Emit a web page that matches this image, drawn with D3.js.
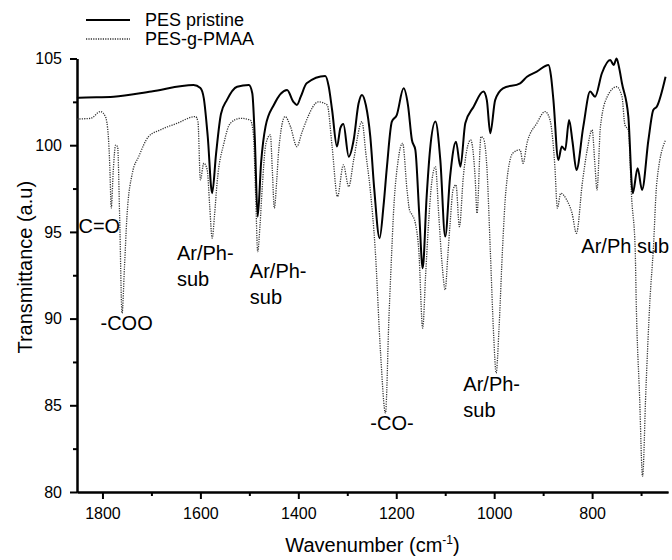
<!DOCTYPE html>
<html>
<head>
<meta charset="utf-8">
<script src="https://cdn.jsdelivr.net/npm/d3@7"></script>
<style>
  body { margin: 0; background: #fff; }
  text { font-family: "Liberation Sans", Arial, sans-serif; fill: #000; }
</style>
</head>
<body>
<svg id="chart" width="672" height="560"></svg>
<script>
// FTIR spectra, wavenumber (cm-1) vs transmittance (a.u)

// PES pristine
let pristineWn = [1852, 1848, 1777, 1700, 1614, 1600, 1593, 1585, 1576, 1568, 1558, 1546, 1525, 1501, 1494, 1489, 1483, 1476, 1467, 1450, 1423, 1410, 1403, 1395, 1383, 1345, 1338, 1331, 1321, 1314, 1308, 1297, 1287, 1277, 1270, 1262, 1253, 1245, 1234, 1226, 1219, 1209, 1199, 1185, 1176, 1168, 1161, 1153, 1146, 1138, 1131, 1120, 1110, 1100, 1090, 1078, 1069, 1059, 1042, 1022, 1015, 1008, 998, 982, 947, 933, 913, 889, 884, 879, 869, 862, 855, 847, 840, 832, 818, 804, 794, 780, 763, 756, 750, 745, 739, 726, 717, 707, 698, 685, 675, 668, 650]
let pristineT = [102.72, 102.74, 102.8, 103.1, 103.47, 103.3, 102.7, 100.5, 97.23, 99.5, 101.8, 102.6, 103.37, 103.47, 103.0, 100.5, 95.88, 99.0, 101.07, 102.32, 103.18, 102.5, 102.32, 102.8, 103.57, 103.99, 103.4, 102.03, 99.92, 101.0, 101.22, 99.34, 100.3, 102.4, 102.9, 102.3, 100.49, 97.5, 94.64, 96.5, 98.76, 101.36, 101.74, 103.28, 102.3, 100.3, 99.73, 96.0, 92.91, 97.0, 99.73, 101.36, 99.15, 94.73, 98.19, 100.2, 98.76, 101.26, 102.22, 103.09, 102.6, 100.69, 102.6, 103.28, 103.57, 103.95, 104.24, 104.63, 104.0, 102.6, 99.15, 99.92, 99.73, 101.46, 100.2, 98.57, 101.07, 103.09, 102.8, 104.15, 104.91, 104.63, 105.0, 104.5, 103.57, 101.65, 97.23, 98.67, 97.42, 100.3, 102.03, 102.22, 103.95]

// PES-g-PMAA
let graftedWn = [1852, 1848, 1824, 1804, 1794, 1788, 1785, 1782, 1778, 1773, 1769, 1765, 1760, 1755, 1750, 1739, 1726, 1706, 1682, 1648, 1610, 1605, 1600, 1593, 1586, 1581, 1576, 1571, 1566, 1552, 1539, 1518, 1498, 1492, 1487, 1483, 1478, 1474, 1466, 1457, 1453, 1449, 1444, 1440, 1427, 1416, 1403, 1393, 1383, 1359, 1341, 1331, 1320, 1308, 1297, 1287, 1270, 1262, 1253, 1243, 1232, 1222, 1215, 1209, 1206, 1196, 1187, 1178, 1173, 1168, 1161, 1154, 1146, 1140, 1134, 1127, 1120, 1113, 1106, 1100, 1095, 1090, 1084, 1078, 1071, 1063, 1048, 1039, 1035, 1027, 1022, 1015, 1008, 1001, 996, 990, 983, 976, 962, 947, 941, 933, 913, 896, 886, 876, 871, 864, 852, 841, 832, 820, 810, 800, 794, 790, 783, 769, 750, 739, 733, 726, 719, 712, 710, 703, 697, 690, 682, 675, 668, 650]
let graftedT = [101.5, 101.51, 101.55, 101.94, 101.65, 100.5, 98.76, 96.37, 98.5, 100.01, 99.9, 96.0, 90.31, 93.0, 95.88, 98.38, 99.34, 100.49, 100.88, 101.26, 101.65, 101.36, 98.0, 98.96, 98.57, 96.5, 94.64, 96.0, 97.81, 100.11, 101.26, 101.55, 101.45, 100.69, 97.0, 93.86, 95.5, 97.42, 100.11, 100.59, 98.5, 96.37, 98.0, 99.73, 101.65, 101.07, 99.92, 100.7, 101.46, 102.5, 102.32, 99.92, 97.04, 98.86, 97.61, 99.15, 101.36, 99.5, 97.4, 94.0, 88.0, 84.55, 90.0, 94.0, 95.88, 99.15, 100.11, 97.42, 96.27, 96.0, 95.5, 93.96, 89.45, 92.5, 95.5, 98.0, 98.76, 95.88, 93.0, 91.66, 93.5, 95.5, 97.42, 97.71, 95.3, 98.19, 100.3, 98.19, 96.08, 100.49, 100.4, 98.76, 94.0, 89.0, 86.86, 89.5, 94.0, 97.4, 99.54, 99.73, 98.96, 100.11, 101.26, 101.94, 101.46, 98.76, 96.37, 97.23, 96.85, 96.08, 94.92, 97.81, 99.73, 100.88, 98.76, 97.42, 101.07, 102.8, 103.37, 102.8, 101.17, 100.88, 96.85, 94.0, 91.08, 85.5, 80.9, 86.0, 91.0, 94.0, 97.81, 100.3]

// band assignments: text lines, anchor wavenumber, anchor transmittance (baseline of first line)
let bandLabels = [['C=O'], ['-COO'], ['Ar/Ph-', 'sub'], ['Ar/Ph-', 'sub'], ['-CO-'], ['Ar/Ph-', 'sub'], ['Ar/Ph sub']]
let bandWn = [1849, 1804, 1648, 1499, 1253, 1063, 822]
let bandT = [94.96, 89.35, 93.39, 92.33, 83.55, 85.85, 93.77]

let seriesNames = ['PES pristine', 'PES-g-PMAA']
let xMajor = [1800, 1600, 1400, 1200, 1000, 800]
let xMinor = [1700, 1500, 1300, 1100, 900, 700]
let yMajor = [80, 85, 90, 95, 100, 105]
let yMinor = [82.5, 87.5, 92.5, 97.5, 102.5]

let margin = { top: 58.5, right: 4, bottom: 68, left: 77 }
let width = 672 - margin.left - margin.right
let height = 560 - margin.top - margin.bottom

let svg = d3.select('#chart')
let g = svg.append('g').attr('transform', `translate(${margin.left},${margin.top})`)

let x = d3.scaleLinear().domain([1852, 645]).range([0, width])
let y = d3.scaleLinear().domain([80, 105]).range([height, 0])

// axes
g.append('g')
  .attr('transform', `translate(0,${height})`)
  .call(d3.axisBottom(x).tickValues(xMajor).tickFormat(d3.format('d')).tickSize(7).tickSizeOuter(0).tickPadding(9))
g.append('g')
  .attr('transform', `translate(0,${height})`)
  .call(d3.axisBottom(x).tickValues(xMinor).tickSize(4).tickSizeOuter(0).tickFormat(''))
g.append('g')
  .call(d3.axisLeft(y).tickValues(yMajor).tickFormat(d3.format('d')).tickSize(7).tickSizeOuter(0).tickPadding(8))
g.append('g')
  .call(d3.axisLeft(y).tickValues(yMinor).tickSize(4).tickSizeOuter(0).tickFormat(''))

g.selectAll('.domain').attr('stroke', '#000').attr('stroke-width', 2)
g.selectAll('.tick line').attr('stroke', '#000').attr('stroke-width', 2)
g.selectAll('.tick text').style('font-size', '16px').style('font-family', '"Liberation Sans", Arial, sans-serif')

// axis titles
let xTitle = g.append('text')
  .attr('x', width / 2)
  .attr('y', height + 60)
  .attr('text-anchor', 'middle')
  .style('font-size', '20px')
xTitle.append('tspan').text('Wavenumber (cm')
xTitle.append('tspan').attr('dy', -8).style('font-size', '12px').text('-1')
xTitle.append('tspan').attr('dy', 8).text(')')

g.append('text')
  .attr('transform', `translate(${-45},${height / 2 - 8}) rotate(-90)`)
  .attr('text-anchor', 'middle')
  .style('font-size', '20px')
  .text('Transmittance (a.u)')

// spectra
let line = d3.line()
  .x(d => x(d[0]))
  .y(d => y(d[1]))
  .curve(d3.curveMonotoneX)

let pristine = pristineWn.map((w, i) => [w, pristineT[i]])
let grafted = graftedWn.map((w, i) => [w, graftedT[i]])

g.append('path')
  .datum(grafted)
  .attr('d', line)
  .attr('fill', 'none')
  .attr('stroke', '#333')
  .attr('stroke-width', 1.3)
  .attr('stroke-dasharray', '1.2,1.2')

g.append('path')
  .datum(pristine)
  .attr('d', line)
  .attr('fill', 'none')
  .attr('stroke', '#000')
  .attr('stroke-width', 2)

// band labels
bandLabels.forEach((lines, i) => {
  let t = g.append('text')
    .attr('x', x(bandWn[i]))
    .attr('y', y(bandT[i]))
    .style('font-size', '20px')
  lines.forEach((s, j) => {
    t.append('tspan')
      .attr('x', x(bandWn[i]))
      .attr('dy', j ? 26 : 0)
      .text(s)
  })
})

// legend
let legend = svg.append('g')
seriesNames.forEach((name, i) => {
  let ly = 20 + i * 19
  legend.append('line')
    .attr('x1', 86).attr('x2', 130)
    .attr('y1', ly).attr('y2', ly)
    .attr('stroke', i ? '#333' : '#000')
    .attr('stroke-width', i ? 1.3 : 2)
    .attr('stroke-dasharray', i ? '1.2,1.2' : null)
  legend.append('text')
    .attr('x', 145)
    .attr('y', 26 + i * 19)
    .style('font-size', '18px')
    .text(name)
})
</script>
</body>
</html>
